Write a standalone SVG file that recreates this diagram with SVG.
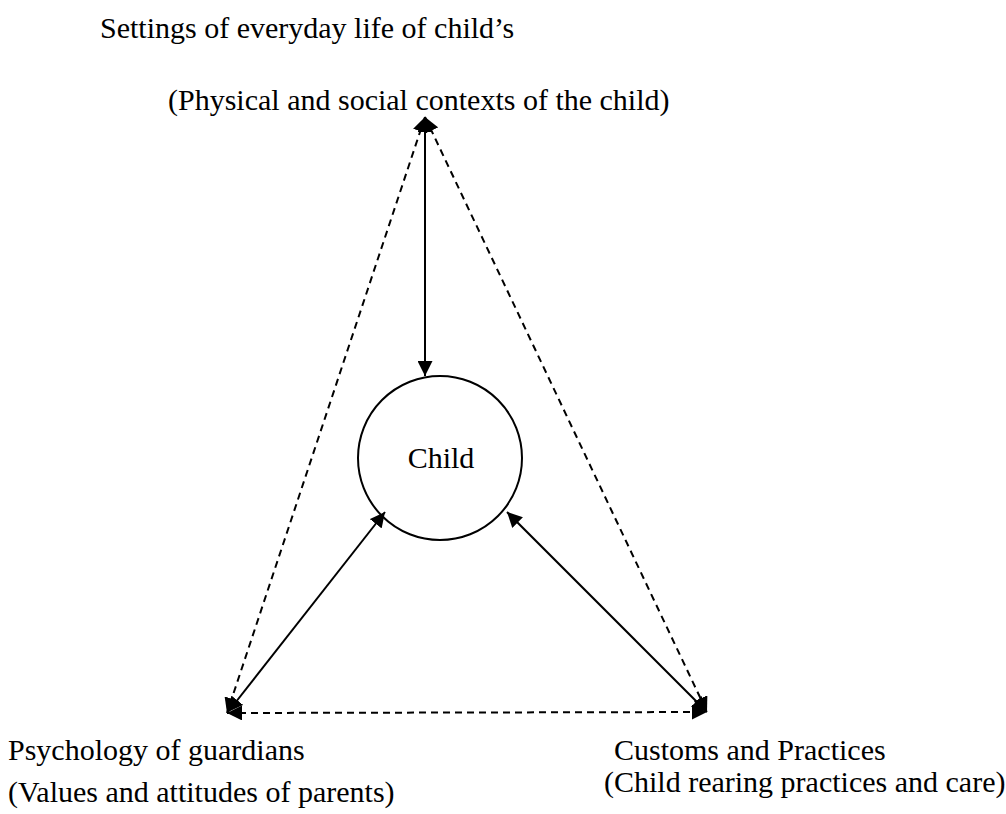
<svg xmlns="http://www.w3.org/2000/svg" width="1006" height="814" viewBox="0 0 1006 814">
<style>
text{font-family:"Liberation Serif","Times New Roman",serif;font-size:30px;fill:#000}
.s{stroke:#000;stroke-width:2;fill:none}
.d{stroke-dasharray:7,5}
</style>
<defs>
<marker id="ah" viewBox="0 0 10 10" refX="10" refY="5" markerUnits="userSpaceOnUse" markerWidth="15" markerHeight="15" orient="auto-start-reverse">
<path d="M0,0 L10,5 L0,10 z" fill="#000"/>
</marker>
</defs>
<rect width="1006" height="814" fill="#fff"/>
<g id="connectors">
<line class="s" x1="425" y1="117" x2="425" y2="376" marker-start="url(#ah)" marker-end="url(#ah)"/>
<line class="s d" x1="425" y1="117" x2="227" y2="713" marker-start="url(#ah)" marker-end="url(#ah)"/>
<line class="s d" x1="425" y1="117" x2="707" y2="712" marker-start="url(#ah)" marker-end="url(#ah)"/>
<line class="s d" x1="227" y1="713" x2="707" y2="712" marker-start="url(#ah)" marker-end="url(#ah)"/>
<line class="s" x1="228" y1="712" x2="385" y2="512" marker-start="url(#ah)" marker-end="url(#ah)"/>
<line class="s" x1="707" y1="712" x2="507" y2="512" marker-start="url(#ah)" marker-end="url(#ah)"/>
</g>
<g id="settings">
<text x="100" y="38">Settings of everyday life of child’s</text>
<text x="168" y="110">(Physical and social contexts of the child)</text>
</g>
<g id="child">
<circle class="s" cx="440" cy="458" r="82"/>
<text x="441" y="468" text-anchor="middle">Child</text>
</g>
<g id="psychology">
<text x="8" y="760">Psychology of guardians</text>
<text x="8" y="802">(Values and attitudes of parents)</text>
</g>
<g id="customs">
<text x="614" y="760">Customs and Practices</text>
<text x="604" y="792">(Child rearing practices and care)</text>
</g>
</svg>
